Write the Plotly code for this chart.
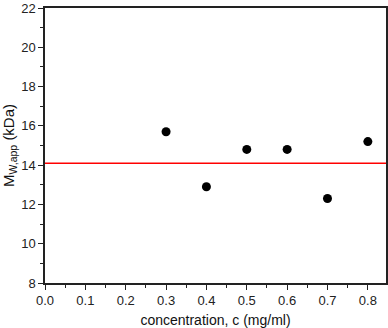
import plotly.graph_objects as go

concentration = [0.3, 0.4, 0.5, 0.6, 0.7, 0.8]
mw_app = [15.7, 12.9, 14.8, 14.8, 12.3, 15.2]
mean_line_x = [0.0, 0.845]
mean_line_y = [14.1, 14.1]
x_ticks = [0.0, 0.1, 0.2, 0.3, 0.4, 0.5, 0.6, 0.7, 0.8]
y_ticks = [8, 10, 12, 14, 16, 18, 20, 22]

fig = go.Figure()
fig.add_trace(go.Scatter(x=mean_line_x, y=mean_line_y, mode="lines",
                         line=dict(color="#ff0000", width=1.5), showlegend=False))
fig.add_trace(go.Scatter(x=concentration, y=mw_app, mode="markers",
                         marker=dict(color="black", size=9), showlegend=False))

axis_common = dict(showgrid=False, zeroline=False, showline=True, linecolor="#222222",
                   linewidth=1.5, mirror=True, ticks="outside", ticklen=5, tickwidth=1.2,
                   tickcolor="#222222", automargin=False,
                   tickfont=dict(family="Liberation Sans, Arial", size=13, color="#222222"))

fig.update_xaxes(range=[0.0, 0.845], tickvals=x_ticks, tickformat=".1f",
                 minor=dict(dtick=0.05, ticks="outside", ticklen=3, tickcolor="#222222"),
                 title=dict(text="concentration, c (mg/ml)", font=dict(family="Liberation Sans, Arial", size=14, color="#111111"), standoff=8),
                 **axis_common)
fig.update_yaxes(range=[8, 22], tickvals=y_ticks,
                 minor=dict(dtick=1, ticks="outside", ticklen=3, tickcolor="#222222"),
                 title=dict(text="M<sub>W,app</sub> (kDa)", font=dict(family="Liberation Sans, Arial", size=15, color="#111111"), standoff=6),
                 **axis_common)

fig.update_layout(width=388, height=328, margin=dict(l=45, r=2, t=8, b=45),
                  plot_bgcolor="white", paper_bgcolor="white")
fig.write_html("out.html", config={"displayModeBar": False},
               post_script="document.body.style.margin='0';document.body.style.overflow='hidden';")
